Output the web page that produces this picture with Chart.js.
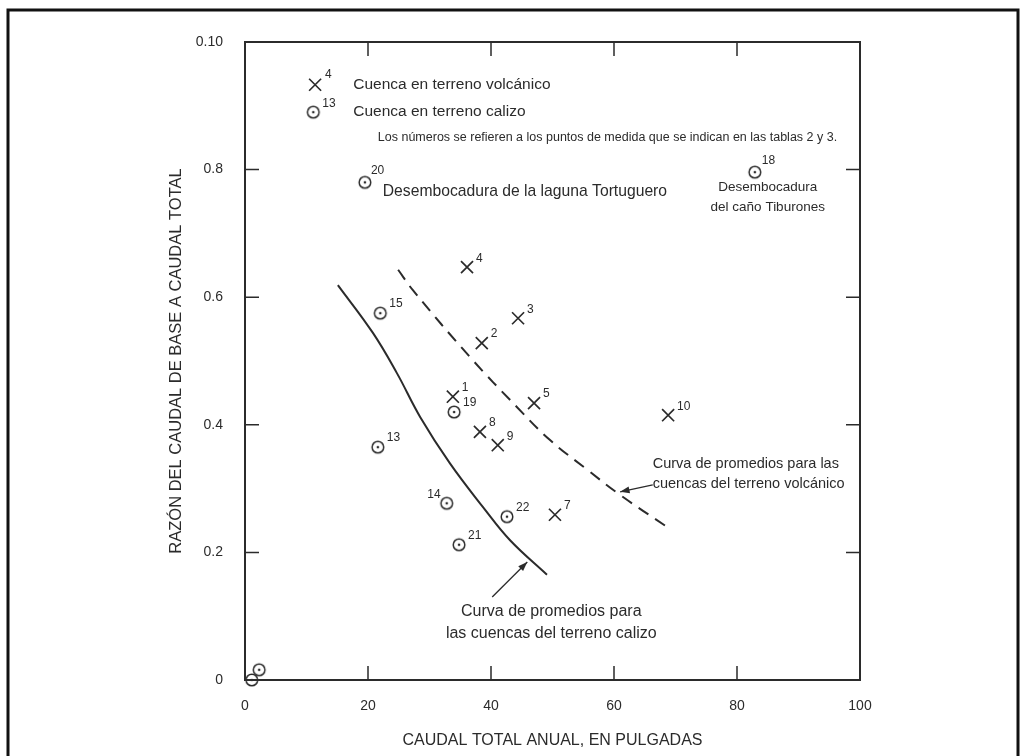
<!DOCTYPE html>
<html>
<head>
<meta charset="utf-8">
<script src="https://cdn.jsdelivr.net/npm/chart.js@4/dist/chart.umd.min.js"></script>
<style>
  html, body { margin: 0; padding: 0; background: #fff; }
  canvas { display: block; }
</style>
</head>
<body>
<canvas id="caudalChart" width="1026" height="756"></canvas>
<script>
// tick labels (the top one is printed "0.10" in the original)
const xTickLabels = ['0', '20', '40', '60', '80', '100'];
const yTickLabels = ['0', '0.2', '0.4', '0.6', '0.8', '0.10'];

// cuencas en terreno volcanico (X)
const volcLabels = ['4', '3', '2', '1', '5', '8', '9', '7', '10'];
const volcX = [36.1, 44.4, 38.5, 33.8, 47.0, 38.2, 41.1, 50.4, 68.8];
const volcY = [0.647, 0.567, 0.528, 0.444, 0.434, 0.389, 0.368, 0.259, 0.415];

// cuencas en terreno calizo (circle)
const calizoLabels = ['20', '18', '15', '13', '19', '14', '22', '21', '', ''];
const calizoX = [19.5, 82.9, 22.0, 21.6, 34.0, 32.8, 42.6, 34.8, 1.1, 2.3];
const calizoY = [0.780, 0.796, 0.575, 0.365, 0.420, 0.277, 0.256, 0.212, 0.0, 0.016];

// average curves
const curvaCalizoX = [15.1, 20.8, 24.7, 28.5, 33.3, 38.7, 43.1, 49.1];
const curvaCalizoY = [0.619, 0.544, 0.481, 0.412, 0.340, 0.271, 0.219, 0.165];
const curvaVolcX = [24.9, 27.3, 36.6, 44.2, 49.6, 55.6, 61.0, 68.6];
const curvaVolcY = [0.643, 0.611, 0.506, 0.428, 0.376, 0.330, 0.290, 0.240];

const INK = '#2b2b2b';
const FONT = '"Liberation Sans", Arial, Helvetica, sans-serif';

const toPoints = (xs, ys) => xs.map((x, i) => ({ x: x, y: ys[i] }));

// circle with a dot in the middle
function makeCircleDot() {
    const c = document.createElement('canvas');
    c.width = 16; c.height = 16;
    const g = c.getContext('2d');
    g.strokeStyle = INK;
    g.lineWidth = 1.5;
    g.beginPath(); g.arc(8, 8, 5.8, 0, Math.PI * 2); g.stroke();
    g.fillStyle = INK;
    g.beginPath(); g.arc(8, 8, 1.3, 0, Math.PI * 2); g.fill();
    return c;
}
const circleDot = makeCircleDot();

// box, inward ticks, outer frame
const frameAndTicks = {
    id: 'frameAndTicks',
    beforeDraw(chart) {
        const ctx = chart.ctx;
        ctx.save();
        ctx.fillStyle = '#fff';
        ctx.fillRect(0, 0, chart.width, chart.height);
        ctx.strokeStyle = '#111';
        ctx.lineWidth = 3;
        ctx.strokeRect(8, 10, 1010, 760);
        ctx.restore();
    },
    afterDatasetsDraw(chart) {
        const { ctx, chartArea: a, scales: { x, y } } = chart;
        ctx.save();
        ctx.strokeStyle = INK;
        ctx.lineWidth = 2;
        ctx.strokeRect(a.left, a.top, a.right - a.left, a.bottom - a.top);
        ctx.lineWidth = 1.5;
        ctx.beginPath();
        [20, 40, 60, 80].forEach(v => {
            const px = x.getPixelForValue(v);
            ctx.moveTo(px, a.bottom); ctx.lineTo(px, a.bottom - 14);
            ctx.moveTo(px, a.top); ctx.lineTo(px, a.top + 14);
        });
        [0.2, 0.4, 0.6, 0.8].forEach(v => {
            const py = y.getPixelForValue(v);
            ctx.moveTo(a.left, py); ctx.lineTo(a.left + 14, py);
            ctx.moveTo(a.right, py); ctx.lineTo(a.right - 14, py);
        });
        ctx.stroke();
        ctx.restore();
    }
};

// point numbers
const labelOffsets = { '14': [-6, -9, 'right'], '20': [6, -12, 'left'], '18': [7, -11, 'left'] };
const pointNumbers = {
    id: 'pointNumbers',
    afterDatasetsDraw(chart) {
        const ctx = chart.ctx;
        ctx.save();
        ctx.fillStyle = INK;
        ctx.font = '12px ' + FONT;
        ctx.textBaseline = 'middle';
        [[0, volcLabels], [1, calizoLabels]].forEach(([di, labels]) => {
            chart.getDatasetMeta(di).data.forEach((el, i) => {
                const t = labels[i];
                if (!t) return;
                const off = labelOffsets[t] || [9, -9, 'left'];
                ctx.textAlign = off[2];
                ctx.fillText(t, el.x + off[0], el.y + off[1]);
            });
        });
        ctx.restore();
    }
};

// legend block, annotations and arrows
const notes = [
    ['Cuenca en terreno volcánico', 17.6, 0.933, 'left', 15.5],
    ['Cuenca en terreno calizo', 17.6, 0.890, 'left', 15.5],
    ['Los números se refieren a los puntos de medida que se indican en las tablas 2 y 3.', 21.6, 0.851, 'left', 12.5],
    ['Desembocadura de la laguna Tortuguero', 22.4, 0.765, 'left', 15.7],
    ['Desembocadura', 85.0, 0.772, 'center', 13.5],
    ['del caño Tiburones', 85.0, 0.741, 'center', 13.5],
    ['Curva de promedios para las', 66.3, 0.339, 'left', 14.5],
    ['cuencas del terreno volcánico', 66.3, 0.307, 'left', 14.5],
    ['Curva de promedios para', 49.8, 0.107, 'center', 16],
    ['las cuencas del terreno calizo', 49.8, 0.072, 'center', 16]
];
const arrows = [
    [40.2, 0.130, 45.9, 0.185],
    [66.3, 0.306, 61.0, 0.295]
];

function drawArrow(ctx, x1, y1, x2, y2) {
    const ang = Math.atan2(y2 - y1, x2 - x1);
    ctx.beginPath();
    ctx.moveTo(x1, y1); ctx.lineTo(x2, y2);
    ctx.stroke();
    ctx.beginPath();
    ctx.moveTo(x2, y2);
    ctx.lineTo(x2 - 10 * Math.cos(ang - 0.35), y2 - 10 * Math.sin(ang - 0.35));
    ctx.lineTo(x2 - 10 * Math.cos(ang + 0.35), y2 - 10 * Math.sin(ang + 0.35));
    ctx.closePath();
    ctx.fill();
}

const annotations = {
    id: 'annotations',
    afterDraw(chart) {
        const { ctx, scales: { x, y } } = chart;
        ctx.save();
        ctx.fillStyle = INK;
        ctx.strokeStyle = INK;
        ctx.textBaseline = 'middle';
        notes.forEach(([t, xv, yv, align, size]) => {
            ctx.font = size + 'px ' + FONT;
            ctx.textAlign = align;
            ctx.fillText(t, x.getPixelForValue(xv), y.getPixelForValue(yv));
        });
        ctx.lineWidth = 1.3;
        arrows.forEach(([x1, y1, x2, y2]) => {
            drawArrow(ctx, x.getPixelForValue(x1), y.getPixelForValue(y1),
                x.getPixelForValue(x2), y.getPixelForValue(y2));
        });

        // legend symbols
        const lx = x.getPixelForValue(11.4), ly = y.getPixelForValue(0.933);
        ctx.lineWidth = 1.7;
        ctx.beginPath();
        ctx.moveTo(lx - 6, ly - 6); ctx.lineTo(lx + 6, ly + 6);
        ctx.moveTo(lx + 6, ly - 6); ctx.lineTo(lx - 6, ly + 6);
        ctx.stroke();
        const cx = x.getPixelForValue(11.1), cy = y.getPixelForValue(0.890);
        ctx.drawImage(circleDot, cx - 8, cy - 8);
        ctx.font = '12px ' + FONT;
        ctx.textAlign = 'left';
        ctx.fillText('4', lx + 10, ly - 10);
        ctx.fillText('13', cx + 9, cy - 8);
        ctx.restore();
    }
};

const ctx = document.getElementById('caudalChart').getContext('2d');
const caudalChart = new Chart(ctx, {
    type: 'scatter',
    data: {
        datasets: [{
            label: 'Cuenca en terreno volcánico',
            data: toPoints(volcX, volcY),
            pointStyle: 'crossRot',
            pointRadius: 8.5,
            borderColor: INK,
            borderWidth: 1.7,
            clip: false
        }, {
            label: 'Cuenca en terreno calizo',
            data: toPoints(calizoX, calizoY),
            pointStyle: circleDot,
            pointRadius: 7,
            clip: false
        }, {
            label: 'Curva de promedios (calizo)',
            data: toPoints(curvaCalizoX, curvaCalizoY),
            showLine: true,
            pointRadius: 0,
            borderColor: INK,
            borderWidth: 2,
            tension: 0.4
        }, {
            label: 'Curva de promedios (volcánico)',
            data: toPoints(curvaVolcX, curvaVolcY),
            showLine: true,
            pointRadius: 0,
            borderColor: INK,
            borderWidth: 2,
            borderDash: [12, 8],
            tension: 0.4
        }]
    },
    options: {
        responsive: false,
        animation: false,
        layout: { padding: { left: 0, top: 42, right: 166, bottom: 0 } },
        plugins: {
            legend: { display: false },
            tooltip: { enabled: false }
        },
        scales: {
            x: {
                type: 'linear',
                min: 0,
                max: 100,
                grid: { display: false },
                border: { display: false },
                ticks: {
                    stepSize: 20,
                    padding: 10,
                    color: INK,
                    font: { family: FONT, size: 14 },
                    callback: (v, i) => xTickLabels[i]
                },
                title: {
                    display: true,
                    text: 'CAUDAL TOTAL ANUAL, EN PULGADAS',
                    color: INK,
                    font: { family: FONT, size: 16 },
                    padding: { top: 0, bottom: 6 }
                },
                afterFit: s => { s.height = 76; }
            },
            y: {
                min: 0,
                max: 1,
                grid: { display: false },
                border: { display: false },
                ticks: {
                    stepSize: 0.2,
                    padding: 14,
                    color: INK,
                    font: { family: FONT, size: 14 },
                    callback: (v, i) => yTickLabels[i]
                },
                title: {
                    display: true,
                    text: 'RAZÓN DEL CAUDAL DE BASE A CAUDAL TOTAL',
                    color: INK,
                    font: { family: FONT, size: 16.5 },
                    padding: { top: 167, bottom: 0 }
                },
                afterFit: s => { s.width = 245; }
            }
        }
    },
    plugins: [frameAndTicks, pointNumbers, annotations]
});
</script>
</body>
</html>
